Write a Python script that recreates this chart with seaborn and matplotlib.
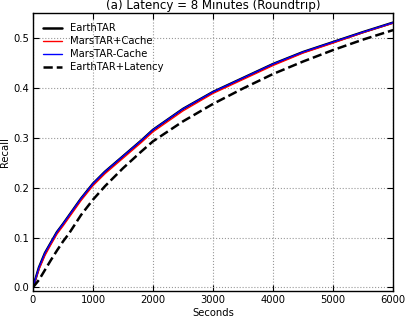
import numpy as np
import pandas as pd
import matplotlib
matplotlib.use("Agg")
import matplotlib.pyplot as plt
import seaborn as sns

seconds = [0, 100, 200, 300, 400, 500, 600, 800, 1000, 1200, 1500, 1800, 2000,
           2500, 3000, 3500, 4000, 4500, 5000, 5500, 6000]
earth_tar = [0.0, 0.040, 0.069, 0.090, 0.111, 0.127, 0.144, 0.178, 0.208, 0.232,
             0.263, 0.294, 0.316, 0.358, 0.392, 0.420, 0.448, 0.472, 0.492, 0.512, 0.531]
mars_cache = [0.0, 0.036, 0.064, 0.086, 0.107, 0.123, 0.140, 0.174, 0.204, 0.228,
              0.259, 0.290, 0.312, 0.354, 0.389, 0.417, 0.445, 0.470, 0.490, 0.511, 0.530]
mars_nocache = [0.0, 0.040, 0.069, 0.090, 0.111, 0.127, 0.144, 0.178, 0.208, 0.232,
                0.263, 0.294, 0.316, 0.358, 0.392, 0.420, 0.448, 0.472, 0.492, 0.512, 0.531]
earth_latency = [0.0, 0.015, 0.035, 0.055, 0.074, 0.092, 0.108, 0.145, 0.176, 0.203,
                 0.239, 0.272, 0.293, 0.333, 0.368, 0.399, 0.428, 0.453, 0.476, 0.497, 0.516]

sns.set_style("ticks", {
    "axes.edgecolor": "black",
    "axes.labelcolor": "black",
    "text.color": "black",
    "xtick.color": "black",
    "ytick.color": "black",
    "grid.color": "#999999",
    "grid.linestyle": ":",
    "xtick.direction": "in",
    "ytick.direction": "in",
})
plt.rcParams["font.family"] = ["DejaVu Sans"]

fig = plt.figure(figsize=(4.07, 3.2), dpi=100)
ax = fig.add_axes([0.081, 0.091, 0.885, 0.868])

series = [
    ("EarthTAR", earth_tar, "black", "-", 1.8),
    ("MarsTAR+Cache", mars_cache, "red", "-", 1.0),
    ("MarsTAR-Cache", mars_nocache, "blue", "-", 1.0),
    ("EarthTAR+Latency", earth_latency, "black", "--", 1.8),
]
for name, vals, col, ls, lw in series:
    df = pd.DataFrame({"Seconds": seconds, "Recall": vals})
    sns.lineplot(data=df, x="Seconds", y="Recall", ax=ax, color=col,
                 linestyle=ls, linewidth=lw, label=name)

ax.set_xlim(0, 6000)
ax.set_ylim(-0.007, 0.55)
ax.set_xticks(np.arange(0, 6001, 1000))
ax.set_yticks(np.arange(0, 0.51, 0.1))
ax.grid(True)
ax.tick_params(labelsize=7.2, top=True, right=True, length=4, width=0.8, pad=3)
for s in ax.spines.values():
    s.set_linewidth(1.0)
ax.set_xlabel("Seconds", fontsize=7.2, labelpad=2)
ax.set_ylabel("Recall", fontsize=7.2, labelpad=2)
ax.set_title("(a) Latency = 8 Minutes (Roundtrip)", fontsize=8.6, pad=3)
ax.legend(loc="upper left", frameon=False, fontsize=7.2, handlelength=1.9,
          labelspacing=0.3, borderaxespad=0.6, handletextpad=0.8)

fig.savefig("out.png", dpi=100)
